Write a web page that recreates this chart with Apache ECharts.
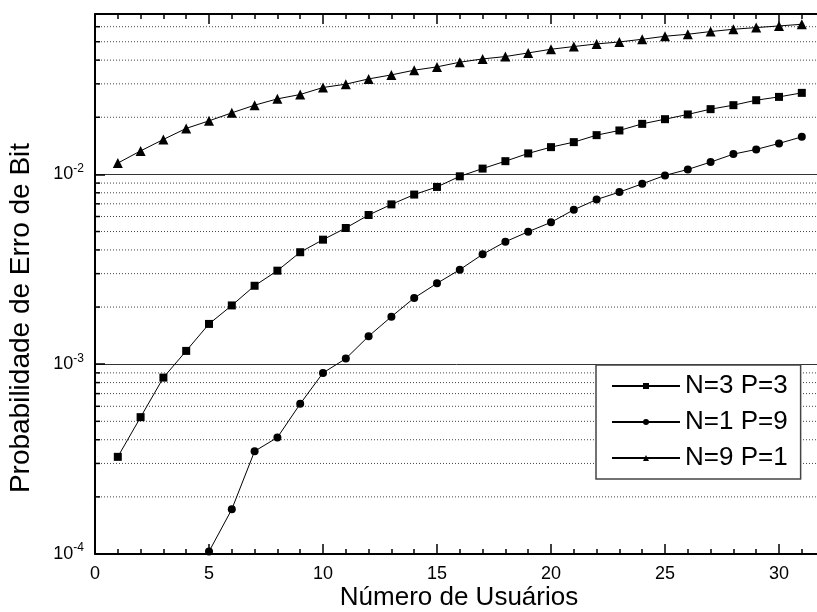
<!DOCTYPE html>
<html>
<head>
<meta charset="utf-8">
<script src="https://cdn.jsdelivr.net/npm/echarts@6/dist/echarts.min.js"></script>
<style>
  html, body { margin: 0; padding: 0; background: #fff; }
  #chart { width: 817px; height: 612px; }
</style>
</head>
<body>
<div id="chart"></div>
<script>
const users = [1, 2, 3, 4, 5, 6, 7, 8, 9, 10, 11, 12, 13, 14, 15, 16, 17, 18, 19, 20,
  21, 22, 23, 24, 25, 26, 27, 28, 29, 30, 31]

// N=3 P=3 (squares)
const n3p3 = [3.25e-4, 5.26e-4, 8.5e-4, 1.175e-3, 1.63e-3, 2.04e-3, 2.59e-3, 3.11e-3,
  3.89e-3, 4.53e-3, 5.22e-3, 6.11e-3, 6.95e-3, 7.83e-3, 8.59e-3, 9.77e-3, 1.073e-2,
  1.174e-2, 1.29e-2, 1.392e-2, 1.479e-2, 1.61e-2, 1.704e-2, 1.846e-2, 1.954e-2,
  2.07e-2, 2.207e-2, 2.316e-2, 2.46e-2, 2.561e-2, 2.689e-2]

// N=1 P=9 (circles), starts at 5 users
const n1p9Users = [5, 6, 7, 8, 9, 10, 11, 12, 13, 14, 15, 16, 17, 18, 19, 20,
  21, 22, 23, 24, 25, 26, 27, 28, 29, 30, 31]
const n1p9 = [1.03e-4, 1.72e-4, 3.48e-4, 4.11e-4, 6.18e-4, 9.0e-4, 1.07e-3, 1.404e-3,
  1.78e-3, 2.234e-3, 2.668e-3, 3.148e-3, 3.793e-3, 4.418e-3, 4.987e-3, 5.59e-3,
  6.513e-3, 7.37e-3, 8.07e-3, 8.92e-3, 9.88e-3, 1.062e-2, 1.161e-2, 1.279e-2,
  1.354e-2, 1.456e-2, 1.577e-2]

// N=9 P=1 (triangles)
const n9p1 = [1.147e-2, 1.33e-2, 1.528e-2, 1.747e-2, 1.915e-2, 2.11e-2, 2.316e-2, 2.5e-2,
  2.636e-2, 2.87e-2, 2.988e-2, 3.185e-2, 3.344e-2, 3.54e-2, 3.685e-2, 3.9e-2, 4.058e-2,
  4.178e-2, 4.365e-2, 4.565e-2, 4.717e-2, 4.868e-2, 4.987e-2, 5.153e-2, 5.344e-2,
  5.475e-2, 5.657e-2, 5.817e-2, 5.938e-2, 6.055e-2, 6.181e-2]

const seriesNames = ['N=3 P=3', 'N=1 P=9', 'N=9 P=1']

// dotted minor grid lines of the log axis
const minorGridValues = [2e-4, 3e-4, 4e-4, 5e-4, 6e-4, 7e-4, 8e-4, 9e-4,
  2e-3, 3e-3, 4e-3, 5e-3, 6e-3, 7e-3, 8e-3, 9e-3,
  2e-2, 3e-2, 4e-2, 5e-2, 6e-2]

const xMin = 0
const xMax = 35
const yMin = 1e-4
const yMax = 0.07

const font = 'Liberation Sans, Arial, sans-serif'

const chart = echarts.init(document.getElementById('chart'))

function pairs(xs, ys) {
  return ys.map((v, i) => [xs[i], v])
}

const lineCommon = {
  type: 'line',
  color: '#000',
  lineStyle: { color: '#000', width: 1 },
  itemStyle: { color: '#000' },
  emphasis: { disabled: true },
  animation: false,
  z: 4,
}

const xAxisCommon = {
  type: 'value',
  min: xMin,
  max: xMax,
  interval: 5,
  axisLine: { lineStyle: { color: '#000', width: 2 } },
  axisTick: { inside: true, length: 10, lineStyle: { color: '#000', width: 1.5 } },
  minorTick: { show: true, splitNumber: 5, length: 5, lineStyle: { color: '#000', width: 1.5 } },
  splitLine: { show: false },
}

const option = {
  backgroundColor: '#fff',
  animation: false,
  // the plot runs past the right edge of the picture, as in the original
  grid: { left: 95, right: -76, top: 14, bottom: 58, outerBoundsMode: 'none', containLabel: false },
  xAxis: [
    Object.assign({}, xAxisCommon, {
      position: 'bottom',
      axisLabel: {
        margin: 11,
        fontSize: 18,
        fontFamily: font,
        color: '#000',
        formatter: v => (v % 5 === 0 ? String(v) : ''),
      },
    }),
    Object.assign({}, xAxisCommon, {
      position: 'top',
      axisLabel: { show: false },
    }),
  ],
  yAxis: {
    type: 'log',
    logBase: 10,
    min: yMin,
    max: yMax,
    axisLine: { show: true, lineStyle: { color: '#000', width: 2 } },
    axisTick: { show: true, inside: true, length: 10, lineStyle: { color: '#000', width: 1.5 } },
    splitLine: { show: true, lineStyle: { color: '#333', width: 1 } },
    axisLabel: {
      margin: 11,
      color: '#000',
      formatter: v => {
        const e = Math.round(Math.log10(v))
        if (Math.abs(v - Math.pow(10, e)) / v > 1e-6) return ''
        return '{b|10}{s|' + e + '}'
      },
      rich: {
        b: { fontSize: 18, fontFamily: font, color: '#000', verticalAlign: 'bottom', lineHeight: 18 },
        s: { fontSize: 12, fontFamily: font, color: '#000', verticalAlign: 'bottom', lineHeight: 12, padding: [0, 0, 9, 0] },
      },
    },
  },
  legend: {
    orient: 'vertical',
    left: 596,
    top: 365,
    padding: [7, 13, 7, 15],
    itemGap: 8,
    itemWidth: 68,
    itemHeight: 7.5,
    backgroundColor: '#fff',
    borderColor: '#444',
    borderWidth: 1.5,
    data: seriesNames,
    textStyle: { fontSize: 26, fontFamily: font, color: '#000', lineHeight: 28 },
    selectedMode: false,
  },
  graphic: [
    {
      type: 'text',
      x: 459,
      y: 597.5,
      style: {
        text: 'Número de Usuários',
        font: '26px ' + font,
        fill: '#000',
        textAlign: 'center',
        textVerticalAlign: 'middle',
      },
    },
    {
      type: 'text',
      x: 21,
      y: 318,
      rotation: Math.PI / 2,
      style: {
        text: 'Probabilidade de Erro de Bit',
        font: '28px ' + font,
        fill: '#000',
        textAlign: 'center',
        textVerticalAlign: 'middle',
      },
    },
  ],
  series: [
    {
      type: 'custom',
      silent: true,
      z: 1,
      data: minorGridValues.map(v => [xMin, v]),
      encode: { x: 0, y: 1 },
      renderItem: (params, api) => {
        const v = api.value(1)
        const p0 = api.coord([xMin, v])
        const p1 = api.coord([xMax, v])
        return {
          type: 'group',
          children: [
            {
              type: 'line',
              shape: { x1: p0[0], y1: p0[1], x2: p1[0], y2: p1[1] },
              style: { stroke: '#444', lineWidth: 1, lineDash: [1, 2] },
            },
            {
              type: 'line',
              shape: { x1: p0[0], y1: p0[1], x2: p0[0] + 5, y2: p0[1] },
              style: { stroke: '#000', lineWidth: 1.5 },
            },
          ],
        }
      },
    },
    Object.assign({}, lineCommon, {
      name: seriesNames[0],
      symbol: 'rect',
      symbolSize: 8,
      data: pairs(users, n3p3),
    }),
    Object.assign({}, lineCommon, {
      name: seriesNames[1],
      symbol: 'circle',
      symbolSize: 8,
      data: pairs(n1p9Users, n1p9),
    }),
    Object.assign({}, lineCommon, {
      name: seriesNames[2],
      symbol: 'triangle',
      symbolSize: 10,
      data: pairs(users, n9p1),
    }),
  ],
}

option && chart.setOption(option)
</script>
</body>
</html>
